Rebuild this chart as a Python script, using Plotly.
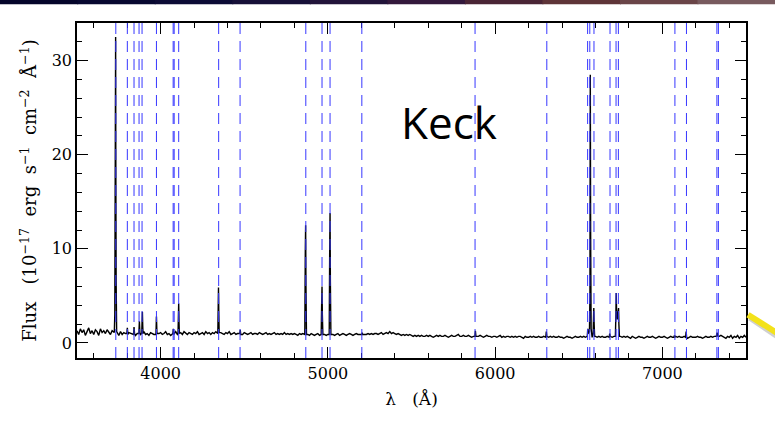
import numpy as np
import plotly.graph_objects as go

# ---------------- data ----------------
cont_start = 3500
cont_step = 10
cont_flux = [
    1.3, 0.9, 1.5, 1.1, 1.4, 0.8, 1.2, 1.6, 1.0, 1.3,
    0.9, 1.4, 1.2, 0.8, 1.5, 1.1, 1.3, 1.0, 1.4, 1.2,
    0.9, 1.3, 1.1, 1.2, 1.0, 0.8, 1.2, 0.9, 1.1, 1.0,
    0.8, 1.1, 1.0, 0.9, 1.2, 0.8, 1.0, 1.1, 0.9, 1.0,
    1.2, 0.9, 1.0, 0.8, 1.1, 1.0, 0.9, 1.2, 0.9, 1.0,
    1.1, 0.9, 1.0, 1.2, 0.9, 1.0, 0.8, 1.1, 1.0, 1.2,
    0.9, 1.0, 1.1, 0.9, 1.2, 1.0, 0.9, 1.1, 1.0, 0.9,
    1.1, 1.0, 1.2, 0.9, 1.0, 1.1, 0.9, 1.2, 1.0, 1.1,
    0.9, 1.1, 1.0, 1.2, 1.0, 0.9, 1.1, 1.0, 0.9, 1.1,
    1.0, 1.2, 0.9, 1.0, 1.1, 0.9, 1.0, 1.1, 1.0, 0.9,
    1.1, 1.0, 0.9, 1.0, 1.1, 0.9, 1.0, 1.0, 0.9, 1.1,
    1.0, 0.9, 1.0, 1.1, 0.9, 1.0, 0.9, 1.0, 1.1, 0.9,
    1.0, 0.9, 1.0, 0.9, 1.1, 0.9, 1.0, 0.9, 1.0, 0.9,
    1.0, 0.9, 0.8, 1.0, 0.9, 1.0, 0.9, 1.0, 0.9, 0.8,
    1.0, 0.9, 0.8, 0.9, 1.0, 0.8, 0.9, 1.0, 0.9, 0.8,
    0.9, 0.8, 1.0, 0.9, 0.8, 0.9, 1.0, 0.8, 0.9, 1.0,
    0.9, 0.8, 0.9, 1.0, 0.9, 0.8, 0.9, 1.0, 0.9, 0.9,
    0.8, 1.0, 0.9, 0.9, 1.0, 0.9, 1.0, 0.9, 1.0, 1.0,
    0.9, 1.0, 1.1, 0.9, 1.0, 1.1, 1.0, 1.2, 1.0, 1.1,
    1.0, 0.9, 1.0, 0.9, 0.8, 0.9, 0.8, 0.9, 0.8, 0.9,
    0.8, 0.7, 0.8, 0.7, 0.8, 0.7, 0.8, 0.7, 0.7, 0.8,
    0.7, 0.8, 0.7, 0.6, 0.7, 0.8, 0.7, 0.8, 0.7, 0.7,
    0.8, 0.7, 0.6, 0.7, 0.8, 0.7, 0.7, 0.8, 0.9, 0.7,
    0.7, 0.8, 0.7, 0.7, 0.8, 0.7, 0.6, 0.7, 0.8, 0.7,
    0.7, 0.8, 0.7, 0.6, 0.7, 0.8, 0.7, 0.7, 0.6, 0.7,
    0.7, 0.6, 0.7, 0.8, 0.6, 0.7, 0.6, 0.7, 0.7, 0.6,
    0.7, 0.6, 0.7, 0.6, 0.7, 0.7, 0.6, 0.5, 0.7, 0.6,
    0.6, 0.7, 0.6, 0.7, 0.6, 0.6, 0.7, 0.6, 0.6, 0.7,
    0.6, 0.7, 0.6, 0.7, 0.6, 0.7, 0.6, 0.6, 0.7, 0.6,
    0.6, 0.5, 0.6, 0.7, 0.6, 0.6, 0.5, 0.6, 0.7, 0.6,
    0.6, 0.7, 0.6, 0.7, 0.6, 0.7, 0.7, 0.7, 0.6, 0.7,
    0.7, 0.6, 0.7, 0.6, 0.7, 0.6, 0.6, 0.7, 0.6, 0.7,
    0.6, 0.7, 0.6, 0.7, 0.6, 0.7, 0.6, 0.7, 0.6, 0.7,
    0.6, 0.5, 0.7, 0.6, 0.5, 0.6, 0.7, 0.6, 0.6, 0.5,
    0.6, 0.7, 0.6, 0.6, 0.7, 0.6, 0.5, 0.6, 0.7, 0.6,
    0.6, 0.7, 0.6, 0.5, 0.6, 0.7, 0.6, 0.6, 0.7, 0.6,
    0.7, 0.6, 0.6, 0.7, 0.6, 0.5, 0.6, 0.7, 0.6, 0.6,
    0.6, 0.7, 0.6, 0.6, 0.5, 0.6, 0.7, 0.6, 0.6, 0.7,
    0.6, 0.7, 0.6, 0.5, 0.7, 0.8, 0.7, 0.6, 0.5, 0.7,
    0.6, 0.8, 0.5, 0.7, 0.6, 0.8, 0.5, 0.7, 0.6, 0.8,
    0.6,
]

# emission-line profile samples (wavelength in A, flux)
line_wl = [
    3723, 3726, 3728, 3730, 3731, 3732, 3734, 3737,          # [OII]
    3798, 3801, 3804,                                        # H10
    3838, 3841, 3844,                                        # H9
    3870, 3873, 3876,                                        # [NeIII]
    3887, 3889, 3891, 3893, 3895,                            # H8
    3972, 3975, 3978,                                        # He
    4073, 4076, 4079,                                        # [SII]
    4104, 4106, 4108, 4110, 4112,                            # Hd
    4342, 4344, 4346, 4348, 4350,                            # Hg
    4473, 4476, 4479,                                        # HeI
    4862, 4865, 4867, 4869, 4872,                            # Hb
    4960, 4963, 4965, 4967, 4970,                            # [OIII]
    5008, 5011, 5013, 5015, 5018,                            # [OIII]
    5202, 5205, 5208,                                        # [NI]
    5879, 5882, 5885,                                        # HeI
    6303, 6306, 6309,                                        # [OI]
    6551, 6554, 6557,                                        # [NII]
    6564, 6567, 6569, 6571, 6574,                            # Ha
    6586, 6588, 6590, 6592, 6595,                            # [NII]
    6682, 6685, 6688,                                        # HeI
    6719, 6722, 6724, 6726, 6731, 6735, 6738, 6740, 6743,    # [SII]
    7069, 7072, 7075,                                        # HeI
    7139, 7142, 7145,                                        # [ArIII]
    7322, 7325, 7327, 7330, 7333,                            # [OII]
]
line_flux = [
    1.1, 3.0, 11.5, 19.8, 32.5, 20.5, 6.5, 1.2,
    1.0, 1.6, 0.9,
    0.9, 1.7, 1.0,
    1.0, 2.3, 1.1,
    1.0, 2.0, 3.3, 1.8, 1.0,
    0.9, 2.8, 1.0,
    1.0, 1.5, 0.9,
    1.0, 2.5, 4.2, 2.2, 1.0,
    1.0, 3.5, 5.9, 3.0, 1.1,
    1.0, 1.4, 0.9,
    0.9, 9.6, 12.5, 6.0, 0.9,
    0.9, 4.3, 6.0, 3.0, 0.9,
    0.9, 10.0, 13.8, 6.5, 0.9,
    0.9, 1.1, 0.9,
    0.7, 1.3, 0.7,
    0.6, 1.2, 0.7,
    0.7, 1.5, 1.0,
    1.2, 5.1, 28.5, 12.0, 1.5,
    1.0, 2.0, 3.7, 2.0, 0.7,
    0.6, 1.0, 0.7,
    0.7, 3.0, 5.3, 3.5, 2.5, 3.0, 3.7, 2.0, 0.7,
    0.6, 0.8, 0.6,
    0.6, 1.2, 0.6,
    0.7, 0.9, 1.1, 0.9, 0.7,
]

# marked line positions (observed wavelength, A)
marker_wl = [3732, 3801, 3841, 3871, 3889, 3975, 4075, 4081, 4108, 4347,
             4475, 4868, 4965, 5013, 5203, 5880, 6309, 6553, 6566, 6591,
             6687, 6723, 6737, 7075, 7144, 7326, 7335]

x_ticks = [4000, 5000, 6000, 7000]
y_ticks = [0, 10, 20, 30]

# ---------------- build spectrum ----------------
cont_wl = cont_start + cont_step * np.arange(len(cont_flux))
cont_flux = np.array(cont_flux)
lw = np.array(line_wl, dtype=float)
keep = np.array([np.min(np.abs(lw - w)) >= 3.5 for w in cont_wl])
wl = np.concatenate([cont_wl[keep], lw])
fl = np.concatenate([cont_flux[keep], np.array(line_flux)])
order = np.argsort(wl, kind="stable")
wl, fl = wl[order], fl[order]

fig = go.Figure()
fig.add_trace(go.Scatter(x=wl, y=fl, mode="lines",
                         line=dict(color="black", width=1.4),
                         showlegend=False, hoverinfo="skip"))

for w in marker_wl:
    fig.add_shape(type="line", xref="x", yref="paper", x0=w, x1=w, y0=0, y1=1,
                  line=dict(color="rgb(55,55,255)", width=1, dash="11px,7px"),
                  layer="above")

# ---------------- slide decorations ----------------
L, R, T, B = 77.3, 746.0, 23.3, 358.3
def px(xp):
    return (xp - L) / (R - L)
def py(yp):
    return (B - yp) / (B - T)

bar_cols = ["#04052a", "#070830", "#0c0b35", "#161038", "#22143a",
            "#33193c", "#4a2535", "#5e3438", "#6a4548", "#785a5e"]
n = len(bar_cols)
for i, c in enumerate(bar_cols):
    fig.add_shape(type="rect", xref="paper", yref="paper",
                  x0=px(775 * i / n), x1=px(775 * (i + 1) / n + 1),
                  y0=py(4.5), y1=py(-1), fillcolor=c, line=dict(width=0),
                  layer="above")

fig.add_shape(type="line", xref="paper", yref="paper",
              x0=px(750), y0=py(318), x1=px(778), y1=py(337),
              line=dict(color="rgba(120,120,120,0.35)", width=6))
fig.add_shape(type="line", xref="paper", yref="paper",
              x0=px(748), y0=py(315), x1=px(778), y1=py(334),
              line=dict(color="#f3e21a", width=6))

fig.add_annotation(text="Keck", xref="paper", yref="paper",
                   x=px(449.5), y=py(122), xanchor="center", yanchor="middle",
                   showarrow=False,
                   font=dict(family="Open Sans", size=44, color="black"))

axis_common = dict(showline=True, linecolor="black", linewidth=1.5, mirror="allticks",
                   ticks="inside", tickcolor="black", ticklen=11, tickwidth=1,
                   showgrid=False, zeroline=False, automargin=False,
                   tickfont=dict(family="DejaVu Serif", size=16, color="black"))

NB = "\u00a0"
fig.update_xaxes(range=[3500, 7500], tickvals=x_ticks,
                 minor=dict(dtick=200, ticklen=5, ticks="inside", tickcolor="black"),
                 title=dict(text="λ" + NB * 3 + "(Å)",
                            font=dict(family="DejaVu Serif", size=17, color="black"),
                            standoff=11),
                 **axis_common)
ytitle = ("Flux" + NB * 3 + "(10<sup>−17</sup>" + NB * 2 + "erg" + NB * 2 + "s<sup>−1</sup>"
          + NB * 2 + "cm<sup>−2</sup>" + NB * 2 + "Å<sup>−1</sup>)")
fig.update_yaxes(range=[-1.6, 34], tickvals=y_ticks,
                 minor=dict(dtick=2, ticklen=5, ticks="inside", tickcolor="black"),
                 title=dict(text=ytitle,
                            font=dict(family="DejaVu Serif", size=18, color="black"),
                            standoff=10),
                 **axis_common)

fig.update_layout(width=775, height=427, margin=dict(l=77, r=29, t=23, b=69),
                  paper_bgcolor="white", plot_bgcolor="white")

fig.write_html("out.html", config={"displayModeBar": False},
               post_script="document.body.style.margin='0';document.body.style.padding='0';")
